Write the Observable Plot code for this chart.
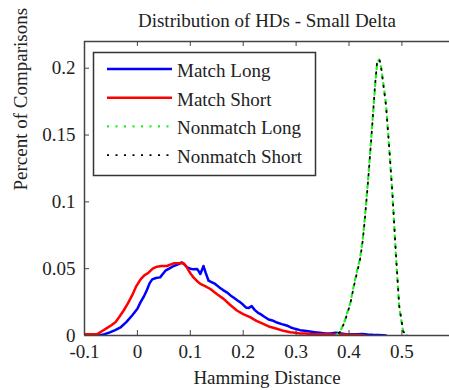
<!DOCTYPE html>
<html><head><meta charset="utf-8">
<script src="https://cdn.jsdelivr.net/npm/d3@7"></script>
<script src="https://cdn.jsdelivr.net/npm/@observablehq/plot@0.6"></script>
<style>body{margin:0;background:#fff}#wrap{width:449px;height:390px}
svg text{font-family:"Liberation Serif","DejaVu Serif",serif !important}</style>
</head><body><div id="wrap"></div>
<script>
const titleText = "Distribution of HDs - Small Delta";
const xLabelText = "Hamming Distance";
const yLabelText = "Percent of Comparisons";
const xTicks = [-0.1, 0, 0.1, 0.2, 0.3, 0.4, 0.5];
const xTickLabels = ["-0.1", "0", "0.1", "0.2", "0.3", "0.4", "0.5"];
const yTicks = [0, 0.05, 0.1, 0.15, 0.2];
const yTickLabels = ["0", "0.05", "0.1", "0.15", "0.2"];
const seriesNames = ["Match Long", "Match Short", "Nonmatch Long", "Nonmatch Short"];

const matchLong = [[-0.073,0],[-0.062,0.001],[-0.051,0.0025],[-0.042,0.004],[-0.032,0.006],[-0.021,0.010],[-0.010,0.015],[0.000,0.020],[0.006,0.025],[0.012,0.029],[0.018,0.034],[0.023,0.039],[0.028,0.042],[0.035,0.043],[0.043,0.0435],[0.048,0.046],[0.053,0.0485],[0.060,0.050],[0.0685,0.052],[0.076,0.053],[0.084,0.0547],[0.089,0.053],[0.094,0.051],[0.100,0.050],[0.106,0.0495],[0.113,0.0498],[0.116,0.048],[0.119,0.046],[0.122,0.049],[0.125,0.052],[0.129,0.047],[0.1345,0.041],[0.140,0.040],[0.147,0.0386],[0.155,0.036],[0.162,0.034],[0.169,0.0323],[0.176,0.030],[0.183,0.028],[0.190,0.026],[0.194,0.025],[0.200,0.023],[0.205,0.021],[0.210,0.0205],[0.216,0.022],[0.222,0.019],[0.228,0.017],[0.232,0.0162],[0.240,0.014],[0.248,0.012],[0.257,0.011],[0.265,0.0095],[0.273,0.0085],[0.282,0.0075],[0.290,0.006],[0.298,0.005],[0.3075,0.004],[0.316,0.0035],[0.326,0.003],[0.335,0.0025],[0.345,0.002],[0.355,0.0015],[0.365,0.0015],[0.375,0.002],[0.385,0.0015],[0.395,0.001],[0.405,0.001],[0.415,0.001],[0.425,0.0012],[0.435,0.0008],[0.445,0.0005],[0.455,0.0003],[0.465,0.0001],[0.47,0]];

const matchShort = [[-0.100,0.001],[-0.090,0.001],[-0.080,0.001],[-0.076,0.001],[-0.068,0.003],[-0.057,0.0057],[-0.050,0.0075],[-0.0415,0.010],[-0.034,0.014],[-0.026,0.0187],[-0.018,0.024],[-0.010,0.030],[-0.002,0.037],[0.006,0.042],[0.013,0.045],[0.021,0.047],[0.029,0.050],[0.037,0.0515],[0.046,0.052],[0.056,0.052],[0.062,0.053],[0.0685,0.054],[0.078,0.054],[0.087,0.0542],[0.092,0.052],[0.097,0.0485],[0.101,0.046],[0.106,0.0435],[0.112,0.041],[0.119,0.0386],[0.128,0.037],[0.138,0.0348],[0.150,0.031],[0.163,0.0274],[0.175,0.023],[0.188,0.0187],[0.200,0.016],[0.213,0.0137],[0.225,0.011],[0.238,0.0087],[0.250,0.0065],[0.2635,0.005],[0.276,0.0035],[0.289,0.0025],[0.298,0.002],[0.307,0.0015],[0.318,0.0015],[0.330,0.001],[0.345,0.001],[0.360,0.001],[0.375,0.0008],[0.390,0.0008],[0.405,0.0005],[0.420,0.0003],[0.43,0]];

const nonmatchLong = [[0.375,0],[0.383,0.0025],[0.392,0.011],[0.402,0.0237],[0.411,0.041],[0.421,0.058],[0.426,0.072],[0.430,0.088],[0.436,0.116],[0.443,0.153],[0.449,0.185],[0.453,0.203],[0.457,0.2065],[0.460,0.202],[0.4635,0.193],[0.470,0.173],[0.476,0.1405],[0.4825,0.103],[0.489,0.058],[0.495,0.021],[0.5025,0.0025],[0.51,0]];

const nonmatchShort = [[0.375,0],[0.384,0.003],[0.392,0.0105],[0.402,0.023],[0.411,0.040],[0.421,0.057],[0.426,0.071],[0.430,0.087],[0.436,0.115],[0.443,0.152],[0.449,0.186],[0.453,0.204],[0.457,0.207],[0.460,0.203],[0.4635,0.192],[0.470,0.172],[0.476,0.141],[0.4825,0.104],[0.489,0.059],[0.495,0.022],[0.5025,0.003],[0.51,0]];

const FONT = "Liberation Serif, DejaVu Serif, serif";
const frameColor = "#444";
const styles = [
  {stroke: "#0000ff", strokeWidth: 2.5},
  {stroke: "#ff0000", strokeWidth: 2.5},
  {stroke: "#22ee22", strokeWidth: 2.2, strokeDasharray: "3,5.5"},
  {stroke: "#000000", strokeWidth: 1.8, strokeDasharray: "1.5,7", strokeDashoffset: -4}
];
const allSeries = [matchLong, matchShort, nonmatchLong, nonmatchShort];

const plot = Plot.plot({
  width: 449, height: 390,
  marginLeft: 84, marginRight: 0, marginTop: 41, marginBottom: 55,
  style: {fontFamily: FONT, fontSize: "19px", background: "white", color: "#222"},
  x: {domain: [-0.1, 0.59]},
  y: {domain: [0, 0.22]},
  marks: [
    ...allSeries.map((s, i) => Plot.line(s, {x: d => d[0], y: d => d[1], ...styles[i], clip: true})),
    Plot.ruleY([0.22], {stroke: frameColor, strokeWidth: 1.5}),
    Plot.ruleY([0], {stroke: frameColor, strokeWidth: 1.5}),
    Plot.ruleX([-0.1], {stroke: frameColor, strokeWidth: 1.5}),
    Plot.tickX(xTicks, {x: d => d, insetTop: 289, stroke: frameColor}),
    Plot.tickX(xTicks, {x: d => d, insetBottom: 289, stroke: frameColor}),
    Plot.tickY(yTicks, {y: d => d, insetRight: 360, stroke: frameColor}),
    Plot.axisX(xTicks, {anchor: "bottom", tickSize: 0, tickPadding: 9, label: null, fontSize: 19, fill: "#222",
      tickFormat: d => xTickLabels[xTicks.indexOf(d)]}),
    Plot.axisY(yTicks, {anchor: "left", tickSize: 0, tickPadding: 9, label: null, fontSize: 19, fill: "#222",
      tickFormat: d => yTickLabels[yTicks.indexOf(d)]}),
    Plot.text([titleText], {text: d => d, frameAnchor: "top", dy: -15, lineAnchor: "bottom", fontSize: 19, fill: "#222"}),
    Plot.text([xLabelText], {text: d => d, frameAnchor: "bottom", dy: 48, lineAnchor: "bottom", fontSize: 19, fill: "#222"}),
    Plot.text([yLabelText], {text: d => d, frameAnchor: "left", dx: -64, dy: 2, rotate: -90, lineAnchor: "middle", fontSize: 19, fill: "#222"})
  ]
});
document.getElementById("wrap").appendChild(plot);

// legend box
const svg = d3.select(plot);
const lg = svg.append("g");
lg.append("rect").attr("x", 93.5).attr("y", 52.5).attr("width", 222).attr("height", 123)
  .attr("fill", "white").attr("stroke", "#333").attr("stroke-width", 1.5);
seriesNames.forEach((name, i) => {
  const yy = 69 + i * 28.7;
  const st = styles[i];
  lg.append("line").attr("x1", 107).attr("x2", 172).attr("y1", yy).attr("y2", yy)
    .attr("stroke", st.stroke).attr("stroke-width", st.strokeWidth)
    .attr("stroke-dasharray", i >= 2 ? "2,6.5" : null);
  lg.append("text").attr("x", 177).attr("y", yy + 8).attr("text-anchor", "start")
    .attr("font-family", FONT).attr("font-size", 19).attr("fill", "#222").text(name);
});
</script>
</body></html>
